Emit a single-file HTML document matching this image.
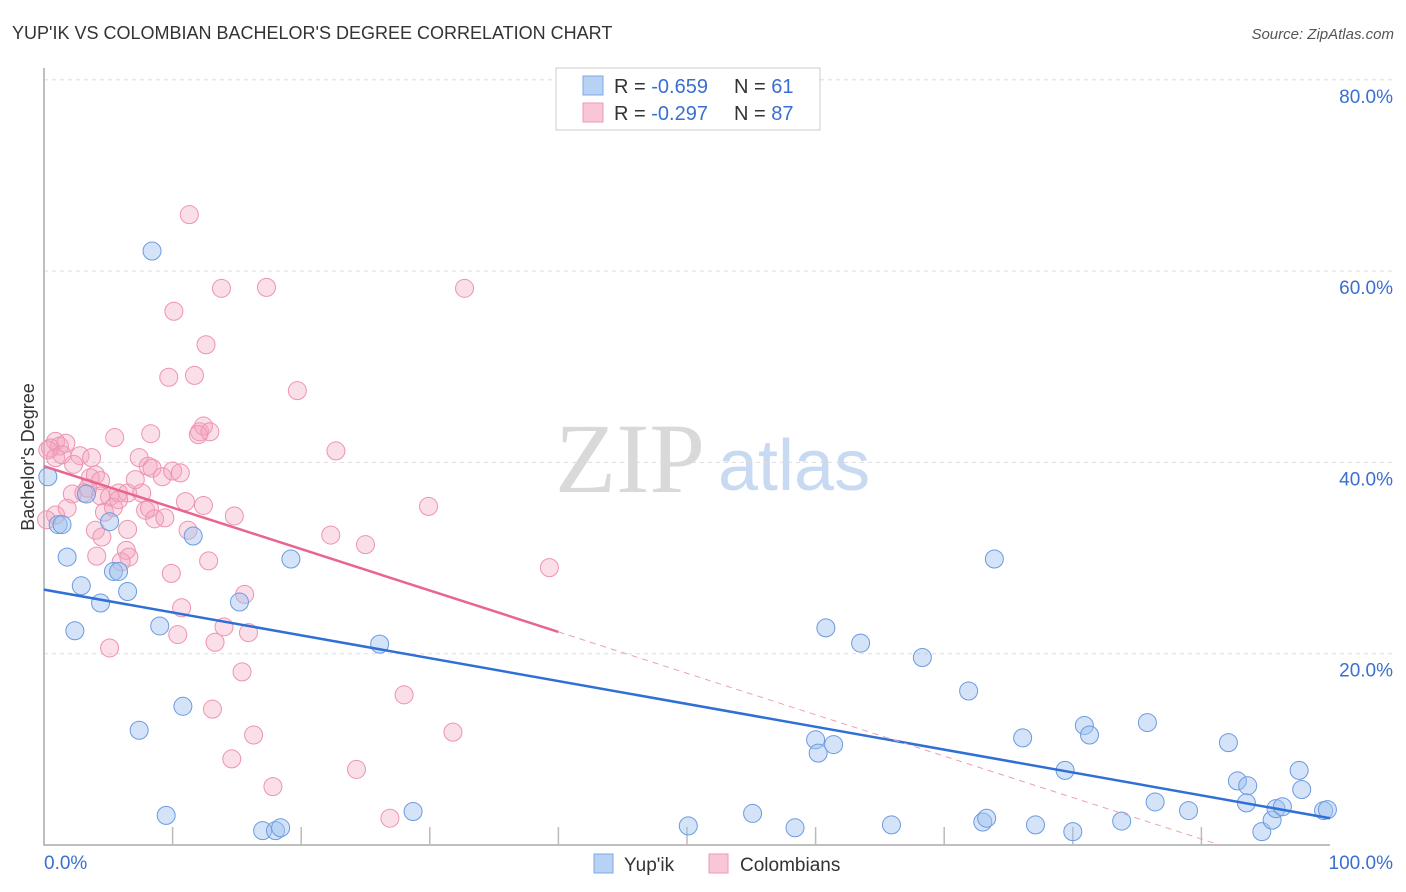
<!DOCTYPE html>
<html><head><meta charset="utf-8"><style>
body{margin:0;background:#fff;font-family:"Liberation Sans",sans-serif}
svg{display:block}
</style></head><body>
<svg id="chart" width="1406" height="892" xmlns="http://www.w3.org/2000/svg">
<text x="12" y="39" font-size="18" fill="#333">YUP'IK VS COLOMBIAN BACHELOR'S DEGREE CORRELATION CHART</text>
<text x="1394" y="39" font-size="15" fill="#555" font-style="italic" text-anchor="end">Source: ZipAtlas.com</text>
<text x="555" y="492" font-size="100" fill="#d9d9d9" font-family="Liberation Serif,serif">ZIP</text>
<text x="718" y="490" font-size="72" fill="#c8daf2">atlas</text>
<text transform="translate(34,457) rotate(-90)" font-size="18" fill="#333" text-anchor="middle">Bachelor's Degree</text>
<g id="grid"></g><g id="ticks"></g><g id="pts"></g><g id="lines"></g>
<g>
<rect x="556" y="68" width="264" height="62" fill="#fff" stroke="#ccc"/>
<rect x="583" y="76" width="20" height="19" fill="#b8d2f4" stroke="#7ea8e6"/>
<rect x="583" y="103" width="20" height="19" fill="#f9c6d5" stroke="#ef9ab4"/>
<text x="614" y="93" font-size="20" fill="#333">R = <tspan fill="#3a6fd0">-0.659</tspan></text>
<text x="734" y="93" font-size="20" fill="#333">N = <tspan fill="#3a6fd0"> 61</tspan></text>
<text x="614" y="120" font-size="20" fill="#333">R = <tspan fill="#3a6fd0">-0.297</tspan></text>
<text x="734" y="120" font-size="20" fill="#333">N = <tspan fill="#3a6fd0">87</tspan></text>
</g>
<g>
<rect x="594" y="854" width="19" height="19" fill="#b8d2f4" stroke="#7ea8e6"/>
<text x="624" y="871" font-size="19" fill="#333">Yup'ik</text>
<rect x="709" y="854" width="19" height="19" fill="#f9c6d5" stroke="#ef9ab4"/>
<text x="740" y="871" font-size="19" fill="#333">Colombians</text>
</g>
</svg>
<script>
const yTicks=[20,40,60,80];
const yTickLabels=["20.0%","40.0%","60.0%","80.0%"];
const xTickLabels=["0.0%","100.0%"];
const blueX=[8.4,0.3,1.1,1.4,1.8,2.9,4.4,2.4,3.3,5.1,5.4,5.8,6.5,9.0,11.6,15.2,19.2,7.4,10.8,9.5,17.0,18.0,18.4,26.1,28.7,50.1,55.1,58.4,60.8,63.5,60.0,60.2,61.4,65.9,68.3,71.9,73.9,73.0,73.3,76.1,77.1,79.4,80.0,80.9,81.3,83.8,85.8,86.4,89.0,92.1,92.8,93.6,93.5,94.7,95.5,95.8,96.3,97.6,97.8,99.5,99.8];
const blueY=[62.1,38.5,33.5,33.5,30.1,27.1,25.3,22.4,36.7,33.8,28.6,28.6,26.5,22.9,32.3,25.4,29.9,12.0,14.5,3.1,1.5,1.5,1.8,21.0,3.5,2.0,3.3,1.8,22.7,21.1,11.0,9.6,10.5,2.1,19.6,16.1,29.9,2.4,2.8,11.2,2.1,7.8,1.4,12.5,11.5,2.5,12.8,4.5,3.6,10.7,6.7,6.2,4.4,1.4,2.6,3.8,4.0,7.8,5.8,3.6,3.7];
const pinkX=[11.3,10.1,13.8,17.3,32.7,12.6,9.7,11.7,19.7,0.9,1.2,0.5,1.7,0.3,0.9,1.4,2.8,3.7,5.5,8.3,2.3,3.6,4.0,4.4,3.4,2.2,3.1,4.4,5.1,5.8,6.5,7.1,7.4,8.1,8.4,9.2,10.0,10.6,12.1,12.4,12.9,12.0,22.7,0.9,1.8,4.0,4.7,5.4,5.8,7.6,7.9,8.2,8.6,9.4,11.0,12.4,11.2,14.8,4.1,4.5,6.5,6.4,6.6,6.0,9.9,12.8,22.3,25.0,29.9,39.3,10.7,10.4,13.3,14.0,15.6,15.9,5.1,15.4,28.0,31.8,16.3,13.1,14.6,24.3,17.8,26.9,0.2];
const pinkY=[65.9,55.8,58.2,58.3,58.2,52.3,48.9,49.1,47.5,42.2,41.7,41.5,42.0,41.3,40.5,40.8,40.7,40.5,42.6,43.0,39.8,38.4,38.7,38.1,37.3,36.7,36.8,36.5,36.4,36.8,36.8,38.2,40.5,39.6,39.4,38.5,39.1,38.9,43.2,43.8,43.2,42.9,41.2,34.5,35.2,32.9,34.8,35.3,36.1,36.8,35.0,35.2,34.1,34.2,35.9,35.5,32.9,34.4,30.2,32.2,33.0,30.8,30.1,29.6,28.4,29.7,32.4,31.4,35.4,29.0,24.8,22.0,21.2,22.8,26.2,22.2,20.6,18.1,15.7,11.8,11.5,14.2,9.0,7.9,6.1,2.8,34.0];
const blueTrend=[26.7,2.8];
const pinkTrend=[39.6,-3.7];
const pinkSolidEnd=40;
const NS="http://www.w3.org/2000/svg";
const X=v=>44+v*12.86, Y=v=>845-v*9.565;
function mk(tag,attrs,parent){const e=document.createElementNS(NS,tag);for(const k in attrs)e.setAttribute(k,attrs[k]);parent.appendChild(e);return e;}
const grid=document.getElementById('grid'),ticks=document.getElementById('ticks'),pts=document.getElementById('pts'),lines=document.getElementById('lines');
yTicks.forEach((t,i)=>{
 const l=mk('line',{x1:44,x2:1395,y1:Y(t),y2:Y(t),stroke:'#ddd','stroke-dasharray':'4,4'},grid);
 
 
 const tx=mk('text',{x:1393,y:Y(t)+23,'font-size':19,fill:'#3a6fd0','text-anchor':'end'},grid);
 tx.textContent=yTickLabels[i];
 
 
});
const ax=mk('path',{d:'M44,68V845H1330',stroke:'#aaa',fill:'none','stroke-width':1.5},ticks);


for(let i=1;i<10;i++){const tk=mk('line',{x1:X(i*10),x2:X(i*10),y1:845,y2:827,stroke:'#bbb','stroke-width':1.5},ticks);
 
 }
const xl0=mk('text',{x:44,y:869,'font-size':19,fill:'#3a6fd0'},ticks);xl0.textContent=xTickLabels[0];


const xl1=mk('text',{x:1393,y:869,'font-size':19,fill:'#3a6fd0','text-anchor':'end'},ticks);xl1.textContent=xTickLabels[1];


pinkX.forEach((v,i)=>{const c=mk('circle',{cx:X(v),cy:Y(pinkY[i]),r:9,fill:'rgba(244,164,188,0.35)',stroke:'#ee93b0','stroke-width':1},pts);
 
 });
blueX.forEach((v,i)=>{const c=mk('circle',{cx:X(v),cy:Y(blueY[i]),r:9,fill:'rgba(160,194,240,0.45)',stroke:'#6a9be0','stroke-width':1},pts);
 
 });
const bl=mk('line',{x1:X(0),y1:Y(blueTrend[0]),x2:X(100),y2:Y(blueTrend[1]),stroke:'#2f6fd6','stroke-width':2.5},lines);


const py=x=>pinkTrend[0]+(pinkTrend[1]-pinkTrend[0])*x/100;
const pl=mk('line',{x1:X(0),y1:Y(py(0)),x2:X(pinkSolidEnd),y2:Y(py(pinkSolidEnd)),stroke:'#e8668e','stroke-width':2.5},lines);


const xz=-pinkTrend[0]*100/(pinkTrend[1]-pinkTrend[0]);
const pd=mk('line',{x1:X(pinkSolidEnd),y1:Y(py(pinkSolidEnd)),x2:X(xz),y2:Y(0),stroke:'#eba0b6','stroke-width':1,'stroke-dasharray':'6,5'},lines);


</script>
</body></html>
